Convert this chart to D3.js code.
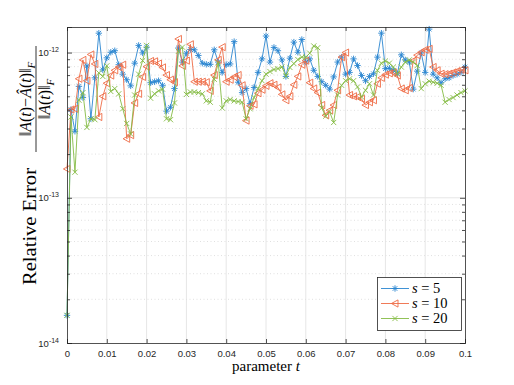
<!DOCTYPE html>
<html lang="en">
  <head>
    <meta charset="UTF-8" />
    <title>Relative error</title>
    <script src="https://cdn.jsdelivr.net/npm/d3@7"></script>
    <style>
      html,
      body {
        margin: 0;
        padding: 0;
        background: #fff;
      }
      svg {
        display: block;
      }
    </style>
  </head>
  <body>
    <svg width="514" height="385"></svg>
    <script>
      const unit = 1e-13;
      const tStep = 0.001;

      const errS5 = [
        0.155, 4.05, 2.87, 5.85, 4.9, 8.1, 3.5, 6.7, 13.6, 7.6,
        9.2, 10.05, 10.3, 8.25, 7.1, 6.5, 5.9, 8.45, 11.2, 9.95,
        10.9, 6.2, 6.3, 6.4, 5.95, 3.95, 4.2, 5.65, 10.75, 8.6,
        9.9, 10.5, 10.45, 9.55, 8.45, 8.3, 8.3, 10.45, 8.6, 7.3,
        8.25, 8.35, 11.9, 6.25, 5.3, 5.65, 4.45, 5.75, 7.3, 9.05,
        13.0, 8.6, 10.85, 10.3, 8.9, 6.85, 9.15, 11.8, 10.05, 12.3,
        8.6, 9.05, 7.55, 6.85, 6.3, 5.95, 5.6, 6.8, 8.6, 9.3,
        7.1, 7.3, 9.05, 8.15, 6.95, 6.4, 6.85, 7.15, 9.3, 13.6,
        7.75, 7.8, 7.55, 7.15, 9.65, 8.9, 8.6, 5.6, 7.45, 9.95,
        7.3, 14.5, 7.1, 6.7, 6.2, 6.6, 6.7, 6.95, 7.1, 7.3,
        7.95
      ];

      const errS10 = [
        1.58, 4.05, 4.1, 6.6, 8.9, 6.4, 9.7, 8.35, 3.6, 5.0,
        6.15, 6.95, 7.55, 7.95, 8.25, 2.55, 2.7, 4.5, 5.2, 6.8,
        8.0, 8.75, 8.7, 8.4, 7.9, 7.0, 6.5, 6.25, 12.4, 8.1,
        8.8, 11.4, 6.3, 6.3, 6.3, 6.25, 5.45, 7.0, 8.9, 10.9,
        6.3, 6.5, 6.8, 7.0, 5.95, 3.4, 4.3, 4.4, 5.25, 5.55,
        5.9, 6.15, 6.0, 5.75, 5.15, 4.7, 5.0, 6.0, 6.85, 8.25,
        8.8, 6.2, 5.65, 5.3, 4.35, 3.7, 4.0, 4.35, 5.5, 9.3,
        10.0, 5.1, 5.0, 4.95, 4.8, 4.35, 4.55, 4.7, 6.1, 6.7,
        7.05, 7.2, 7.3, 6.95, 5.65, 5.5, 5.7, 8.8, 9.6, 10.05,
        10.45, 10.6, 7.95, 7.55, 7.15, 7.1, 7.15, 7.3, 7.45, 7.6,
        7.55
      ];

      const errS20 = [
        0.155, 3.6, 1.5, 4.7, 5.3, 3.05, 3.5, 3.45, 7.25, 6.85,
        8.1, 5.4, 5.65, 5.2, 4.1, 3.25, 2.75, 5.1, 7.1, 8.8,
        11.2, 4.85, 5.2, 5.45, 5.6, 3.5, 3.45, 4.5, 10.2, 10.9,
        5.15, 5.35, 5.35, 5.3, 5.2, 4.65, 4.55, 6.55, 8.5, 4.15,
        4.65, 4.75, 4.65, 4.6, 4.55, 3.5, 4.1, 4.9, 5.65, 6.4,
        7.1, 7.4, 7.65, 7.75, 7.95, 6.9, 7.9, 8.4, 8.95, 9.3,
        9.3, 9.9, 11.1, 10.8, 4.15, 3.65, 3.9, 3.3, 5.1, 5.95,
        6.4, 6.6, 6.4, 5.8, 4.95, 5.5, 6.1, 5.1, 7.55, 8.45,
        8.75, 8.45, 7.95, 7.15, 7.95, 8.6, 8.9, 8.6, 8.15, 5.65,
        6.1, 6.35, 6.25, 6.15, 5.95, 4.55, 4.75, 4.9, 5.1, 5.3,
        5.45
      ];

      const seriesNames = ['5', '10', '20'];
      const xTicks = [0, 0.01, 0.02, 0.03, 0.04, 0.05, 0.06, 0.07, 0.08, 0.09, 0.1];
      const xTickLabels = ['0', '0.01', '0.02', '0.03', '0.04', '0.05', '0.06', '0.07', '0.08', '0.09', '0.1'];
      const yTicks = [1e-14, 1e-13, 1e-12];
      const yTickExps = ['-14', '-13', '-12'];

      const colors = ['#2a86d0', '#ee6b45', '#84bb44'];
      const markers = ['star', 'triLeft', 'cross'];

      const svg = d3.select('svg');
      const pLeft = 67,
        pRight = 465,
        pTop = 27,
        pBottom = 343;

      const x = d3.scaleLinear().domain([0, 0.1]).range([pLeft, pRight]);
      const y = d3.scaleLog().domain([1e-14, 1.5e-12]).range([pBottom, pTop]);

      // minor values for dotted grid + small ticks
      const minorVals = [];
      [1e-14, 1e-13].forEach(function(d) {
        for (let k = 2; k <= 9; k++) minorVals.push(k * d);
      });

      // grid
      const grid = svg.append('g');
      grid
        .selectAll('line.vg')
        .data(xTicks.slice(1, -1))
        .enter()
        .append('line')
        .attr('x1', d => x(d))
        .attr('x2', d => x(d))
        .attr('y1', pTop)
        .attr('y2', pBottom)
        .attr('stroke', '#e6e6e6')
        .attr('stroke-width', 1);
      grid
        .selectAll('line.hg')
        .data(yTicks.slice(1))
        .enter()
        .append('line')
        .attr('x1', pLeft)
        .attr('x2', pRight)
        .attr('y1', d => y(d))
        .attr('y2', d => y(d))
        .attr('stroke', '#e6e6e6')
        .attr('stroke-width', 1);
      grid
        .selectAll('line.mg')
        .data(minorVals)
        .enter()
        .append('line')
        .attr('x1', pLeft)
        .attr('x2', pRight)
        .attr('y1', d => y(d))
        .attr('y2', d => y(d))
        .attr('stroke', '#e0e0e0')
        .attr('stroke-width', 1)
        .attr('stroke-dasharray', '1,2.5');

      // series
      function markerPath(type) {
        if (type === 'star')
          return 'M-3.2,0L3.2,0M0,-3.2L0,3.2M-2.3,-2.3L2.3,2.3M-2.3,2.3L2.3,-2.3';
        if (type === 'triLeft') return 'M-3.6,0L3,-3.6L3,3.6Z';
        return 'M-2.6,-2.6L2.6,2.6M-2.6,2.6L2.6,-2.6';
      }

      const allSeries = [errS5, errS10, errS20];
      const line = d3
        .line()
        .x((d, i) => x(i * tStep))
        .y(d => y(d * unit));

      const plot = svg.append('g');
      allSeries.forEach(function(vals, si) {
        const g = plot.append('g');
        g.append('path')
          .datum(vals)
          .attr('d', line)
          .attr('fill', 'none')
          .attr('stroke', colors[si])
          .attr('stroke-width', 0.9);
        g.selectAll('path.mk')
          .data(vals)
          .enter()
          .append('path')
          .attr('class', 'mk')
          .attr('transform', (d, i) => `translate(${x(i * tStep)},${y(d * unit)})`)
          .attr('d', markerPath(markers[si]))
          .attr('fill', 'none')
          .attr('stroke', colors[si])
          .attr('stroke-width', 0.9);
      });

      // axes box and ticks
      const axisColor = '#262626';
      const xAxisB = d3.axisBottom(x).tickValues(xTicks).tickSize(-4).tickPadding(7)
        .tickFormat((d, i) => xTickLabels[i]);
      const xAxisT = d3.axisTop(x).tickValues(xTicks).tickSize(-4).tickFormat('');
      const yAxisL = d3.axisLeft(y).tickValues(yTicks).tickSize(-5).tickFormat('');
      const yAxisR = d3.axisRight(y).tickValues(yTicks).tickSize(-5).tickFormat('');
      const yMinL = d3.axisLeft(y).tickValues(minorVals).tickSize(-3).tickFormat('');
      const yMinR = d3.axisRight(y).tickValues(minorVals).tickSize(-3).tickFormat('');

      function styleAxis(g) {
        g.select('.domain').attr('stroke', axisColor).attr('stroke-width', 0.8);
        g.selectAll('.tick line').attr('stroke', axisColor).attr('stroke-width', 0.8);
        g.selectAll('.tick text')
          .attr('fill', axisColor)
          .style('font-family', '"Liberation Sans", Arial, sans-serif')
          .style('font-size', '9.5px');
      }

      svg.append('g').attr('transform', `translate(0,${pBottom})`).call(xAxisB).call(styleAxis);
      svg.append('g').attr('transform', `translate(0,${pTop})`).call(xAxisT).call(styleAxis);
      svg.append('g').attr('transform', `translate(${pLeft},0)`).call(yAxisL).call(styleAxis);
      svg.append('g').attr('transform', `translate(${pRight},0)`).call(yAxisR).call(styleAxis);
      svg.append('g').attr('transform', `translate(${pLeft},0)`).call(yMinL).call(styleAxis)
        .select('.domain').remove();
      svg.append('g').attr('transform', `translate(${pRight},0)`).call(yMinR).call(styleAxis)
        .select('.domain').remove();

      // y tick labels 10^k
      const yLab = svg
        .selectAll('text.ylab')
        .data(yTicks)
        .enter()
        .append('text')
        .attr('class', 'ylab')
        .attr('x', pLeft - 8)
        .attr('y', d => y(d) + 3.5)
        .attr('text-anchor', 'end')
        .attr('fill', axisColor)
        .style('font-family', '"Liberation Sans", Arial, sans-serif')
        .style('font-size', '9.5px');
      yLab.append('tspan').text('10');
      yLab
        .append('tspan')
        .attr('dy', -4)
        .style('font-size', '7px')
        .text((d, i) => yTickExps[i]);

      // x label
      const serif = '"Liberation Serif", "DejaVu Serif", serif';
      const xl = svg
        .append('text')
        .attr('x', (pLeft + pRight) / 2)
        .attr('y', 371)
        .attr('text-anchor', 'middle')
        .attr('fill', '#000')
        .style('font-family', serif)
        .style('font-size', '15px');
      xl.append('tspan').text('parameter ');
      xl.append('tspan').style('font-style', 'italic').text('t');

      // y label with fraction
      const yl = svg.append('g').attr('transform', 'translate(0,185) rotate(-90)');
      yl.append('text')
        .attr('x', -100)
        .attr('y', 36)
        .attr('textLength', 117)
        .attr('lengthAdjust', 'spacingAndGlyphs')
        .style('font-family', serif)
        .style('font-size', '19px')
        .text('Relative Error');

      function normText(el, parts) {
        parts.forEach(function(p) {
          const ts = el.append('tspan').text(p[0]);
          if (p[1]) ts.style('font-style', 'italic');
          if (p[2]) ts.attr('dy', p[2]).style('font-size', '11px');
        });
      }
      const num = yl
        .append('text')
        .attr('x', 86)
        .attr('y', 31)
        .attr('text-anchor', 'middle')
        .style('font-family', serif)
        .style('font-size', '16px');
      normText(num, [['\u2016'], ['A', 1], ['('], ['t', 1], [')\u2212'], ['\u00C2', 1], ['('], ['t', 1], [')\u2016'], ['F', 1, 4]]);
      yl.append('line')
        .attr('x1', 33)
        .attr('x2', 139)
        .attr('y1', 36)
        .attr('y2', 36)
        .attr('stroke', '#000')
        .attr('stroke-width', 0.8);
      const den = yl
        .append('text')
        .attr('x', 86)
        .attr('y', 50)
        .attr('text-anchor', 'middle')
        .style('font-family', serif)
        .style('font-size', '16px');
      normText(den, [['\u2016'], ['A', 1], ['('], ['t', 1], [')\u2016'], ['F', 1, 4]]);

      // legend
      const lg = svg.append('g');
      lg.append('rect')
        .attr('x', 377.5)
        .attr('y', 277.5)
        .attr('width', 84)
        .attr('height', 53)
        .attr('fill', '#fff')
        .attr('stroke', axisColor)
        .attr('stroke-width', 0.8);
      seriesNames.forEach(function(name, si) {
        const yy = 288.5 + si * 15;
        lg.append('line')
          .attr('x1', 381)
          .attr('x2', 409)
          .attr('y1', yy)
          .attr('y2', yy)
          .attr('stroke', colors[si])
          .attr('stroke-width', 0.9);
        lg.append('path')
          .attr('transform', `translate(395,${yy})`)
          .attr('d', markerPath(markers[si]))
          .attr('fill', 'none')
          .attr('stroke', colors[si])
          .attr('stroke-width', 0.9);
        const t = lg
          .append('text')
          .attr('x', 412)
          .attr('y', yy + 4.5)
          .style('font-family', serif)
          .style('font-size', '14.5px');
        t.append('tspan').style('font-style', 'italic').text('s');
        t.append('tspan').text(' = ' + name);
      });
    </script>
  </body>
</html>
